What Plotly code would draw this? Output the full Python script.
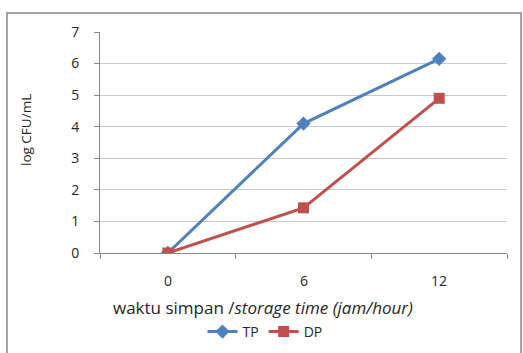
import plotly.graph_objects as go

categories = ["0", "6", "12"]
tp_values = [0.0, 4.1, 6.15]
dp_values = [0.0, 1.43, 4.9]
y_ticks = [0, 1, 2, 3, 4, 5, 6, 7]

FONT = "Open Sans"
TXT = "#262626"
W, H = 523, 353
L, R, T, B = 100, 16, 32, 100

fig = go.Figure()
fig.add_trace(go.Scatter(
    x=categories, y=tp_values, name="TP", mode="lines+markers",
    line=dict(color="#4F81BD", width=3),
    marker=dict(symbol="diamond", size=11, color="#4F81BD"),
))
fig.add_trace(go.Scatter(
    x=categories, y=dp_values, name="DP", mode="lines+markers",
    line=dict(color="#C0504D", width=3),
    marker=dict(symbol="square", size=11, color="#C0504D"),
))

pw = W - L - R
ph = H - T - B
def px_x(p):
    return (p - L) / pw
def px_y(p):
    return (H - B - p) / ph

fig.add_shape(type="rect", xref="paper", yref="paper",
              x0=px_x(7), x1=px_x(521), y0=px_y(13), y1=px_y(380),
              line=dict(color="#868686", width=1.5), fillcolor="rgba(0,0,0,0)")

# category tick labels, placed through the x axis scale (category index)
for i, c in enumerate(categories):
    fig.add_annotation(xref="x", yref="paper", x=i, y=px_y(280),
                       text=c, showarrow=False, xanchor="center", yanchor="middle",
                       font=dict(family=FONT, size=14, color=TXT))

fig.add_annotation(xref="paper", yref="paper", x=px_x(263), y=px_y(307),
                   text="waktu simpan /<i>storage time (jam/hour)</i>",
                   showarrow=False, xanchor="center", yanchor="middle",
                   font=dict(family=FONT, size=17, color=TXT))
fig.add_annotation(xref="paper", yref="paper", x=px_x(26), y=px_y(130),
                   text="log CFU/mL", textangle=-90,
                   showarrow=False, xanchor="center", yanchor="middle",
                   font=dict(family=FONT, size=13.5, color=TXT))

fig.update_layout(
    width=W, height=H,
    margin=dict(l=L, r=R, t=T, b=B, autoexpand=False),
    paper_bgcolor="white", plot_bgcolor="white",
    font=dict(family=FONT, size=14, color=TXT),
    showlegend=True,
    legend=dict(orientation="h", x=px_x(265), xanchor="center",
                y=px_y(332), yanchor="middle",
                font=dict(family=FONT, size=14, color=TXT),
                itemwidth=30, tracegroupgap=0),
    xaxis=dict(
        type="category", range=[-0.5, 2.5], automargin=False,
        tickson="boundaries", ticks="outside", ticklen=5,
        tickcolor="#868686", showgrid=False, showline=True,
        linecolor="#868686", linewidth=1, zeroline=False,
        showticklabels=False,
    ),
    yaxis=dict(
        range=[0, 7], tickvals=y_ticks, ticks="outside", ticklen=5,
        automargin=False,
        tickcolor="#868686", showgrid=True, gridcolor="#C8C8C8",
        gridwidth=1, showline=True, linecolor="#868686", linewidth=1,
        zeroline=False,
        tickfont=dict(family=FONT, size=14, color=TXT),
        ticklabelstandoff=12,
    ),
)

fig.write_html("out.html")
